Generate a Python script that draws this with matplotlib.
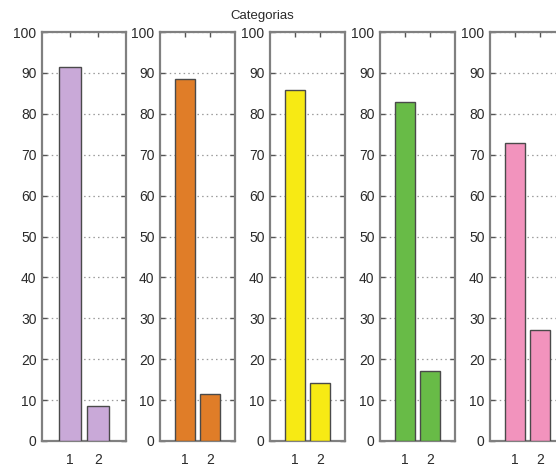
import matplotlib
matplotlib.use("Agg")
import matplotlib.pyplot as plt

plt.rcParams['font.family'] = ['Liberation Sans', 'DejaVu Sans']

categories = ['1', '2']
series_values = [
    [91.4, 8.6],
    [88.4, 11.6],
    [85.8, 14.2],
    [83.0, 17.0],
    [72.8, 27.2],
]
bar_colors = ['#c9a9d8', '#e07d28', '#f7ea14', '#68bb47', '#f293bd']
y_ticks = list(range(0, 101, 10))
title = 'Categorias'

W, H = 556, 466
fig = plt.figure(figsize=(W / 100, H / 100), dpi=100)

# panel boxes in pixels: left, right
panels = [(42, 126), (160, 235), (270, 345), (380, 455), (490, 565)]
top, bottom = 32, 441

for (x0, x1), vals, col in zip(panels, series_values, bar_colors):
    ax = fig.add_axes([x0 / W, 1 - bottom / H, (x1 - x0) / W, (bottom - top) / H])
    xs = [i + 1 for i in range(len(vals))]
    ax.bar(xs, vals, width=0.82, color=col, edgecolor='#4a4a4a', linewidth=1.0, zorder=3)
    ax.set_xlim(0, 3)
    ax.set_ylim(0, 100)
    ax.set_xticks(xs)
    ax.set_xticklabels(categories)
    ax.set_yticks(y_ticks)
    ax.yaxis.grid(True, color='#9a9a9a', linestyle=(0, (1.2, 2.5)), linewidth=0.9, zorder=0)
    ax.tick_params(direction='in', length=3.5, width=1, color='#555555',
                   labelsize=10, labelcolor='#2a2a2a', top=True, right=True, pad=4)
    ax.tick_params(axis='x', pad=9)
    for sp in ax.spines.values():
        sp.set_color('#808080')
        sp.set_linewidth(1.6)

fig.text(262 / W, 1 - 16 / H, title, ha='center', va='center', fontsize=9.5, color='#2a2a2a')

fig.savefig('out.png', dpi=100)
